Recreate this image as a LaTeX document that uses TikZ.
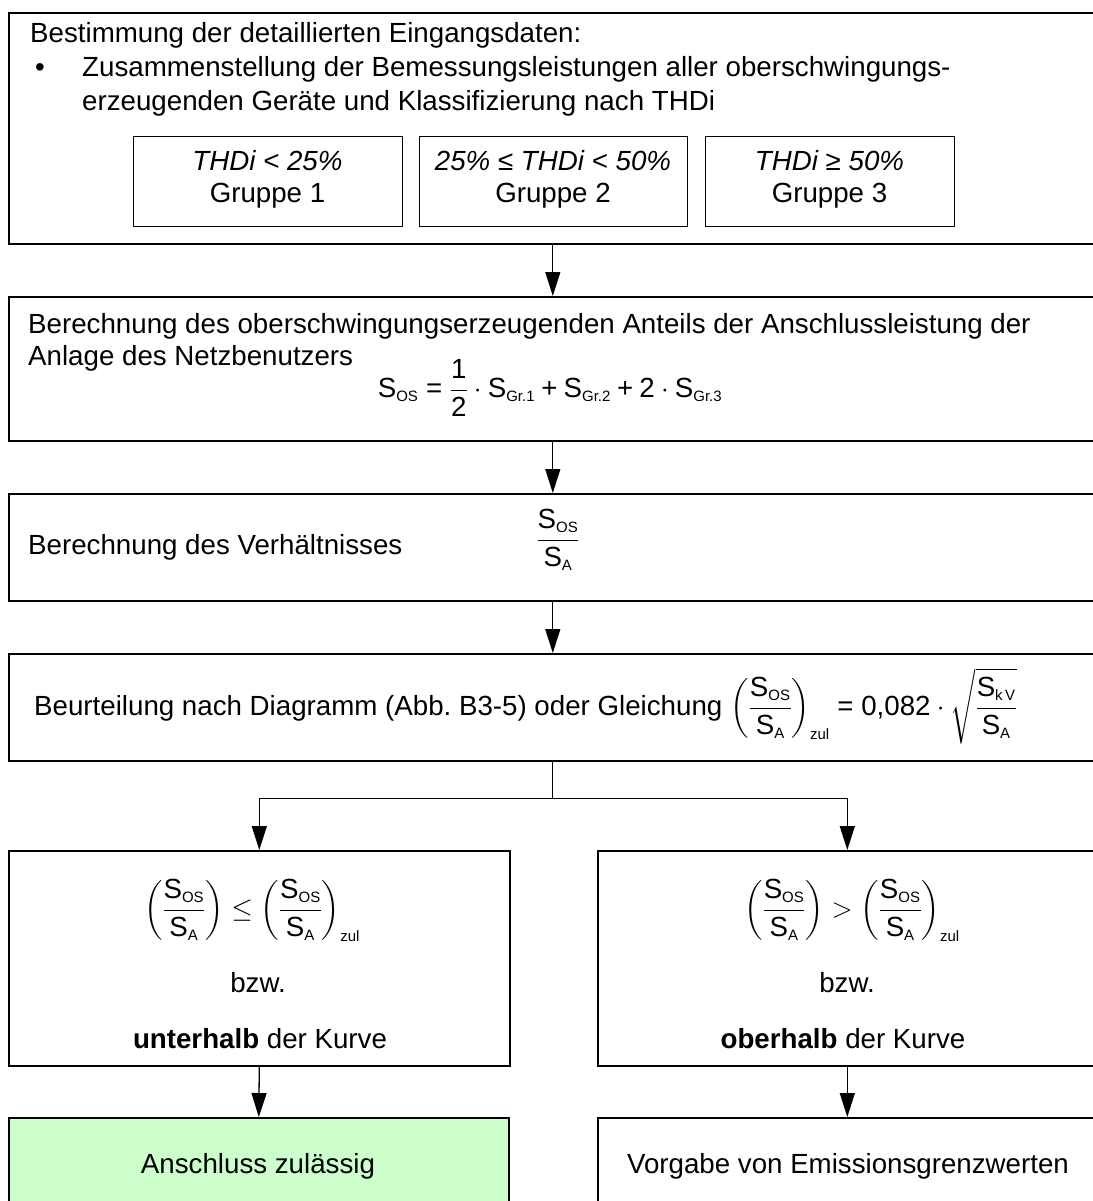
\RequirePackage{fix-cm}
\documentclass[tikz,border=0pt]{standalone}
\usepackage{amsmath}
\usepackage{fontspec}
\setmainfont{Liberation Sans}
\usetikzlibrary{arrows.meta}
\definecolor{okgreen}{HTML}{CCFFCC}
\newcommand{\Sx}[1]{\text{S}_{\mbox{\fontsize{15}{15}\selectfont #1}}}
\newcommand{\Fr}{\dfrac{\Sx{OS}}{\Sx{A}}}
\newcommand{\Zul}{_{\mbox{\fontsize{15}{15}\selectfont zul}}}
\newcommand{\Eq}{\mathrel{\text{=}}}
\newcommand{\Pl}{\mathbin{\text{+}}}
\begin{document}
\begin{tikzpicture}[x=1pt,y=-1pt,
  box/.style={draw, line width=1.6pt, anchor=north west, inner sep=0pt},
  subbox/.style={draw, line width=1.3pt, anchor=north west, inner sep=0pt, minimum height=90pt},
  arr/.style={line width=1.3pt, -{Triangle[length=24pt,width=15pt]}},
  txt/.style={inner sep=0pt, anchor=base west},
  ctxt/.style={inner sep=0pt, anchor=base},
  font=\fontsize{27.7}{34}\selectfont]
\useasboundingbox (0,0) rectangle (1092,1201);
% boxes
\node[box, minimum width=1088pt, minimum height=231pt] (b1) at (8,12) {};
\node[subbox, minimum width=269pt] (g1) at (133,136) {};
\node[subbox, minimum width=268pt] (g2) at (419,136) {};
\node[subbox, minimum width=249pt] (g3) at (705,136) {};
\node[box, minimum width=1088pt, minimum height=144pt] (b2) at (8,296) {};
\node[box, minimum width=1088pt, minimum height=107pt] (b3) at (8,493) {};
\node[box, minimum width=1088pt, minimum height=107pt] (b4) at (8,653) {};
\node[box, minimum width=501pt, minimum height=215pt] (bl) at (8,850) {};
\node[box, minimum width=499pt, minimum height=215pt] (br) at (597,850) {};
\node[box, fill=okgreen, minimum width=500pt, minimum height=100pt] (gl) at (8,1117) {};
\node[box, minimum width=499pt, minimum height=100pt] (rr) at (597,1117) {};
% connectors
\draw[arr] (b1.south) -- (b2.north);
\draw[arr] (b2.south) -- (b3.north);
\draw[arr] (b3.south) -- (b4.north);
\draw[line width=1.3pt] (b4.south) -- ++(0,37) coordinate (sp);
\draw[arr] (sp) -| (bl.north);
\draw[arr] (sp) -| (br.north);
\draw[arr] (bl.south) -- (gl.north);
\draw[arr] (br.south) -- (rr.north);
% texts box 1
\node[txt] (t1) at (30,43) {Bestimmung der detaillierten Eingangsdaten:};
\node[ctxt] (bul) at (40,77) {\textbullet};
\node[txt] (t2) at (82,77) {Zusammenstellung der Bemessungsleistungen aller oberschwingungs-};
\node[txt] (t3) at (82,111) {erzeugenden Geräte und Klassifizierung nach THDi};
\node[ctxt] (g1a) at (267.5,171) {\itshape THDi < 25\%};
\node[ctxt] (g1b) at (267.5,203) {Gruppe 1};
\node[ctxt] (g2a) at (553,171) {\itshape 25\% ≤ THDi < 50\%};
\node[ctxt] (g2b) at (553,203) {Gruppe 2};
\node[ctxt] (g3a) at (829.5,171) {\itshape THDi ≥ 50\%};
\node[ctxt] (g3b) at (829.5,203) {Gruppe 3};
% box 2
\node[txt] (t4) at (28,333) {Berechnung des oberschwingungserzeugenden Anteils der Anschlussleistung der};
\node[txt] (t5) at (28,365) {Anlage des Netzbenutzers};
\node[ctxt] (f1) at (550,397) {$\Sx{OS} \Eq \dfrac{\text{1}}{\text{2}}\cdot\Sx{Gr.1} \Pl \Sx{Gr.2} \Pl \text{2}\cdot\Sx{Gr.3}$};
% box 3
\node[txt] (t6) at (28,554) {Berechnung des Verhältnisses};
\node[ctxt] (f2) at (558,547) {$\Fr$};
% box 4
\node[txt] (t7) at (34,715) {Beurteilung nach Diagramm (Abb.\ B3-5) oder Gleichung\hspace{8pt}$\left(\Fr\right)\Zul \Eq \text{0,082}\cdot\sqrt{\dfrac{\Sx{k\,V}}{\Sx{A}}}$};
% branch boxes
\node[ctxt] (f3) at (252,917) {$\left(\Fr\right)\le\left(\Fr\right)\Zul$};
\node[ctxt] (t8) at (258,992) {bzw.};
\node[ctxt] (t9) at (260,1048) {\textbf{unterhalb} der Kurve};
\node[ctxt] (f4) at (852,917) {$\left(\Fr\right)>\left(\Fr\right)\Zul$};
\node[ctxt] (t10) at (847,992) {bzw.};
\node[ctxt] (t11) at (843,1048) {\textbf{oberhalb} der Kurve};
% bottom
\node[ctxt] (t12) at (258,1173) {Anschluss zulässig};
\node[ctxt] (t13) at (848,1173) {Vorgabe von Emissionsgrenzwerten};
\end{tikzpicture}
\end{document}
